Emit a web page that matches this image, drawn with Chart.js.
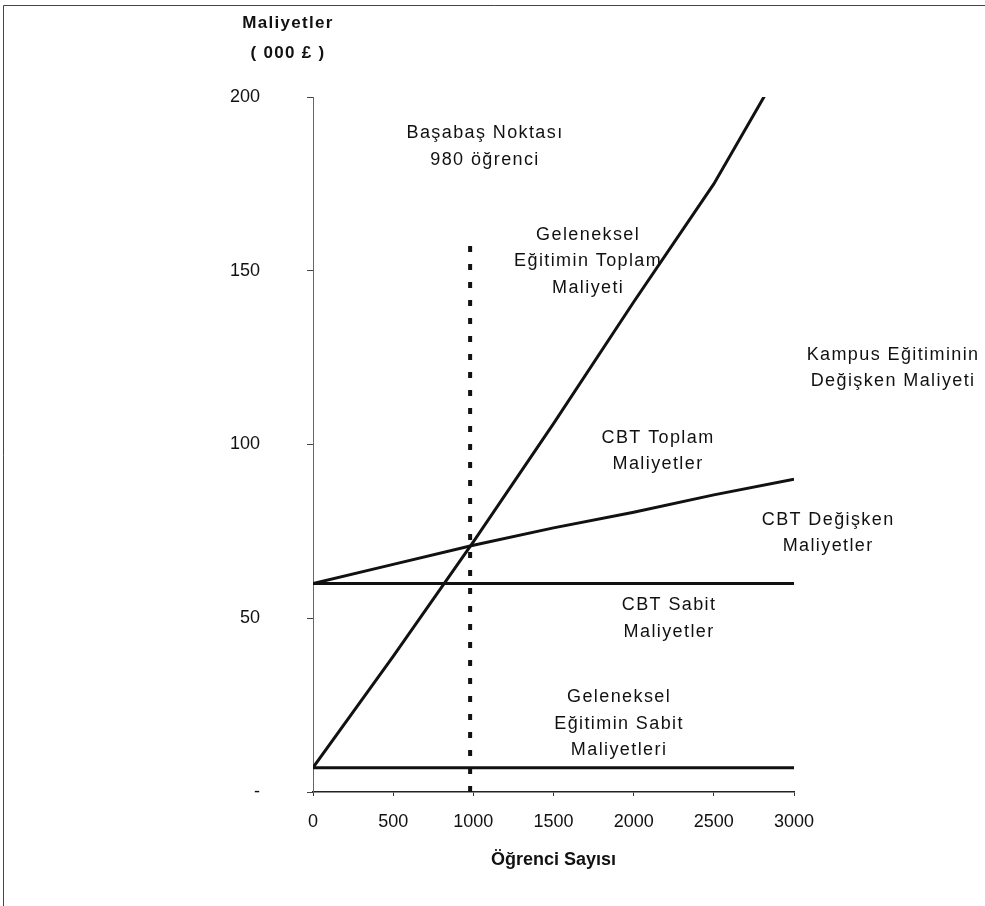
<!DOCTYPE html>
<html>
<head>
<meta charset="utf-8">
<script src="https://cdn.jsdelivr.net/npm/chart.js@4.4.1/dist/chart.umd.min.js"></script>
<style>
  html, body { margin: 0; padding: 0; background: #fff; }
  #wrap { width: 985px; height: 906px; }
</style>
</head>
<body>
<div id="wrap"><canvas id="costChart" width="985" height="906"></canvas></div>
<script>
  // Student counts along the x axis
  const studentCounts = [0, 500, 1000, 1500, 2000, 2500, 3000];

  // Costs in thousand pounds
  const tradTotal = [7, 39, 72, 106, 141, 175, 215];
  const cbtTotal = [60, 65.5, 71, 76, 80.5, 85.5, 90];
  const cbtFixed = [60, 60, 60, 60, 60, 60, 60];
  const tradFixed = [7, 7, 7, 7, 7, 7, 7];

  // Break-even marker
  const breakEvenStudents = 980;
  const breakEvenRange = [0, 158];

  const yTicks = [0, 50, 100, 150, 200];
  const yTickLabels = ['-', '50', '100', '150', '200'];

  // Text notes, anchored in data units (x = students, y = cost)
  const noteX = [1073, 1716, 3618, 2152, 3213, 2221, 1909];
  const noteY = [189.6, 160.3, 125.8, 101.9, 78.3, 53.8, 27.3];
  const noteText = [
    ['Başabaş Noktası', '980 öğrenci'],
    ['Geleneksel', 'Eğitimin Toplam', 'Maliyeti'],
    ['Kampus Eğitiminin', 'Değişken Maliyeti'],
    ['CBT Toplam', 'Maliyetler'],
    ['CBT Değişken', 'Maliyetler'],
    ['CBT Sabit', 'Maliyetler'],
    ['Geleneksel', 'Eğitimin Sabit', 'Maliyetleri']
  ];

  const FONT = '"Liberation Sans", Arial, sans-serif';
  const INK = '#111';

  const toPoints = ys => studentCounts.map((x, i) => ({ x: x, y: ys[i] }));

  function solidLine(data) {
    return {
      data: toPoints(data),
      borderColor: INK,
      borderWidth: 3,
      pointRadius: 0,
      tension: 0,
      fill: false
    };
  }

  // Draws the notes, the y-axis heading and the frame
  const notesPlugin = {
    id: 'notes',
    afterDraw(chart) {
      const { ctx, scales: { x, y }, chartArea } = chart;
      ctx.save();
      ctx.fillStyle = INK;
      ctx.textAlign = 'center';
      ctx.textBaseline = 'middle';

      ctx.font = '18px ' + FONT;
      ctx.letterSpacing = '1.4px';
      noteText.forEach((lines, i) => {
        const px = x.getPixelForValue(noteX[i]);
        const py = y.getPixelForValue(noteY[i]);
        lines.forEach((line, j) => ctx.fillText(line, px, py + j * 26.5));
      });

      // y-axis heading sits above the axis
      ctx.font = 'bold 17px ' + FONT;
      ctx.letterSpacing = '1.3px';
      const hx = y.right - 25;
      ctx.fillText('Maliyetler', hx, chartArea.top - 74);
      ctx.fillText('( 000 £ )', hx, chartArea.top - 44);

      // frame of the scanned figure (left and top edges)
      ctx.strokeStyle = '#444';
      ctx.lineWidth = 1;
      ctx.beginPath();
      ctx.moveTo(3.5, chart.height);
      ctx.lineTo(3.5, 5.5);
      ctx.lineTo(chart.width, 5.5);
      ctx.stroke();
      ctx.restore();
    }
  };

  const ctx = document.getElementById('costChart').getContext('2d');
  new Chart(ctx, {
    type: 'line',
    data: {
      datasets: [
        solidLine(tradTotal),
        solidLine(cbtTotal),
        solidLine(cbtFixed),
        solidLine(tradFixed),
        {
          data: breakEvenRange.map(v => ({ x: breakEvenStudents, y: v })),
          borderColor: INK,
          borderWidth: 4,
          borderDash: [6, 12],
          borderCapStyle: 'butt',
          pointRadius: 0,
          fill: false
        }
      ]
    },
    options: {
      responsive: false,
      animation: false,
      devicePixelRatio: 1,
      layout: { padding: { left: 0, top: 97, right: 191, bottom: 0 } },
      plugins: {
        legend: { display: false },
        tooltip: { enabled: false }
      },
      scales: {
        x: {
          type: 'linear',
          min: 0,
          max: 3000,
          afterFit: s => { s.height = 114; },
          ticks: {
            stepSize: 500,
            padding: 15,
            color: INK,
            font: { family: FONT, size: 18 },
            callback: v => String(v)
          },
          grid: { drawOnChartArea: false, tickLength: 4, color: '#333' },
          border: { color: '#222', width: 1.5 },
          title: {
            display: true,
            text: 'Öğrenci Sayısı',
            color: INK,
            font: { family: FONT, size: 18, weight: 'bold' },
            padding: { top: 0, bottom: 35 }
          }
        },
        y: {
          min: 0,
          max: 200,
          afterFit: s => { s.width = 313; },
          afterBuildTicks: s => { s.ticks = yTicks.map(v => ({ value: v })); },
          ticks: {
            padding: 47,
            color: INK,
            font: { family: FONT, size: 18 },
            callback: v => yTickLabels[yTicks.indexOf(v)]
          },
          grid: { drawOnChartArea: false, tickLength: 6, color: '#444' },
          border: { color: '#666', width: 1, dash: [6, 3] }
        }
      }
    },
    plugins: [notesPlugin]
  });
</script>
</body>
</html>
